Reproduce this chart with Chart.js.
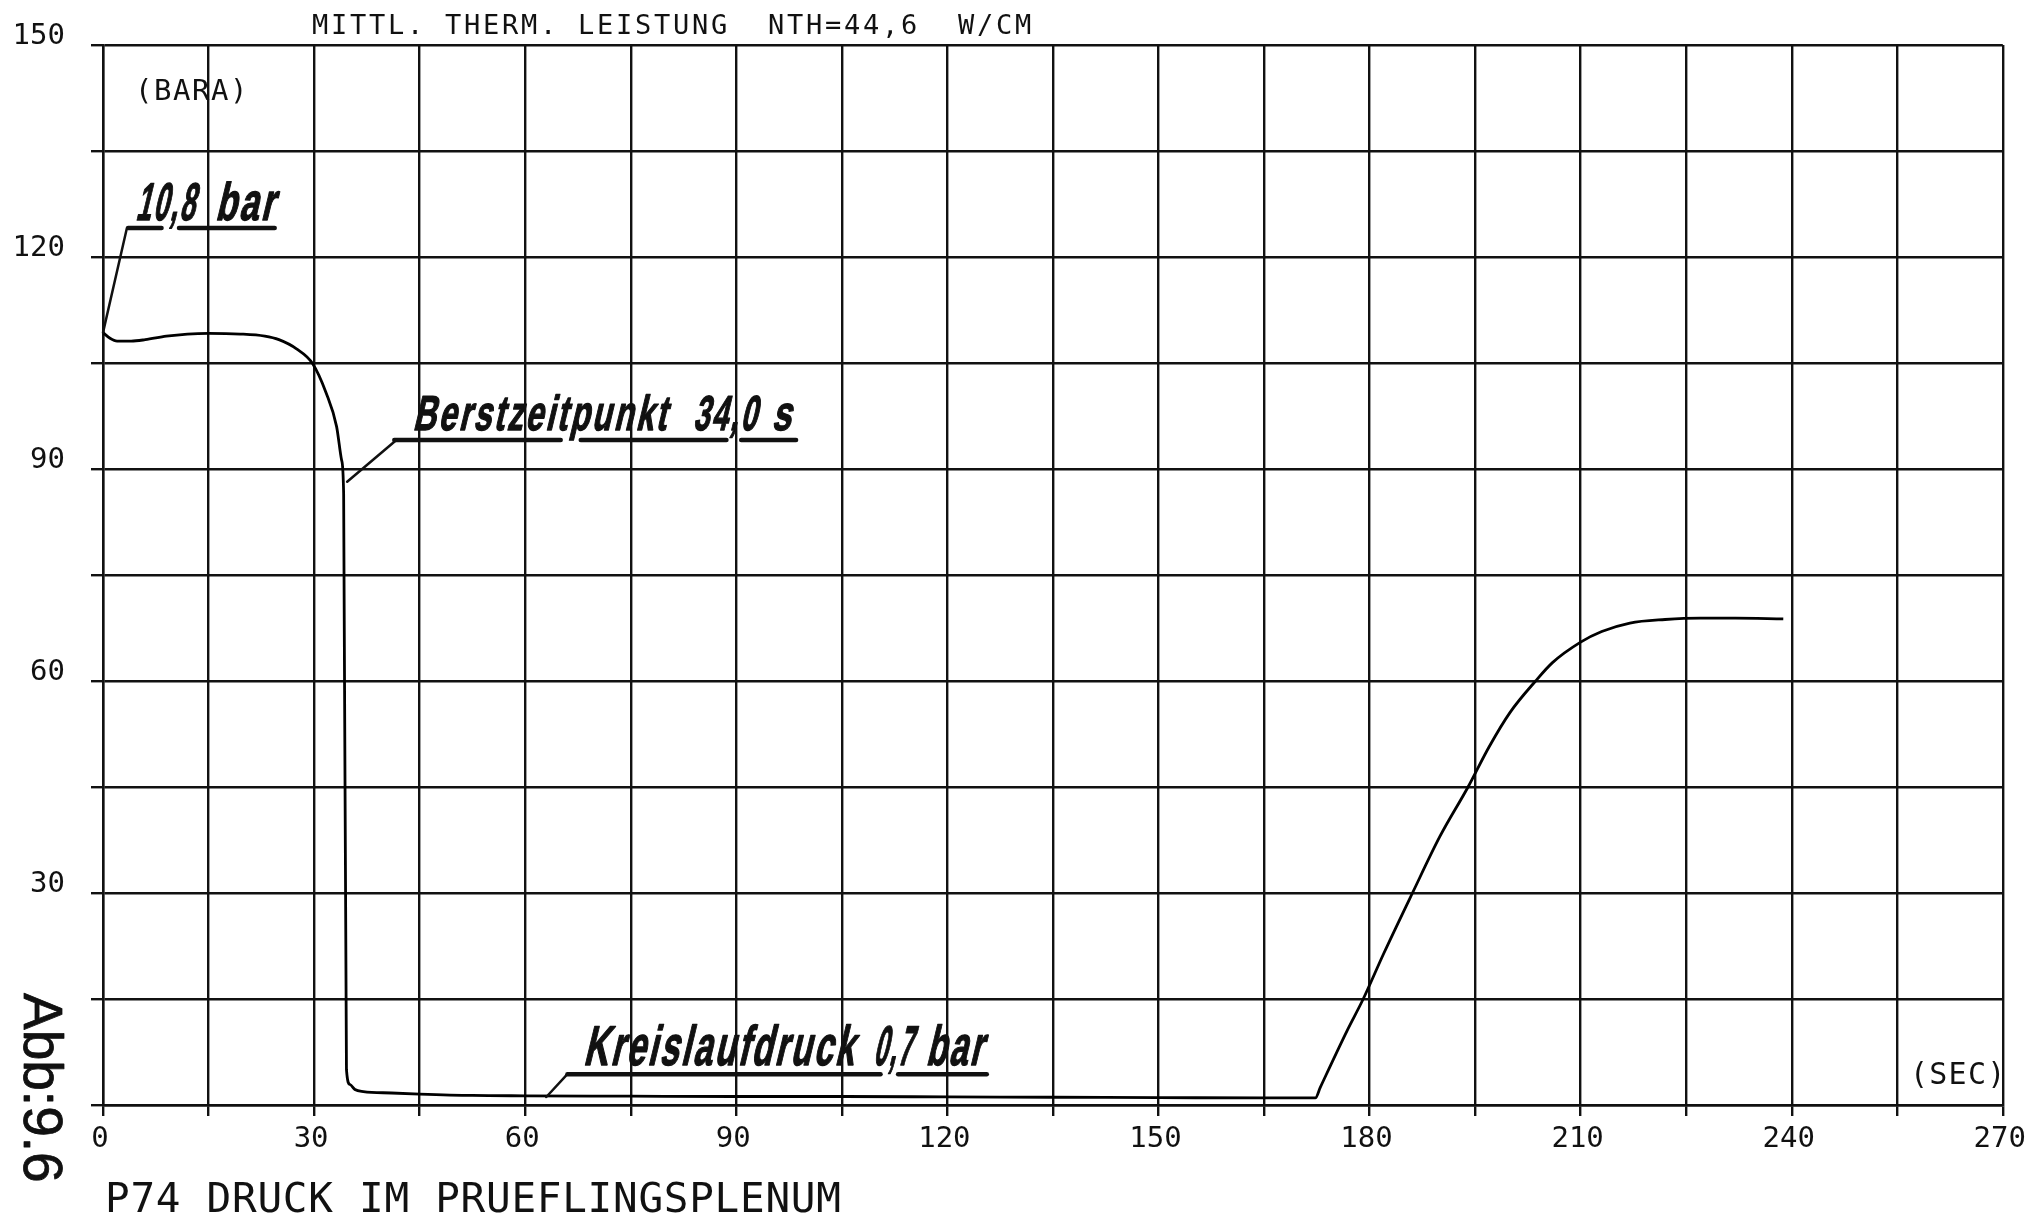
<!DOCTYPE html>
<html>
<head>
<meta charset="utf-8">
<title>P74 Druck im Prueflingsplenum</title>
<script src="https://cdn.jsdelivr.net/npm/chart.js@4/dist/chart.umd.min.js"></script>
<style>
  html, body { margin: 0; padding: 0; background: #fff; }
  #wrap { width: 2035px; height: 1218px; position: relative; }
</style>
</head>
<body>
<div id="wrap"><canvas id="chart"></canvas></div>
<script>
// Time axis (s) and plenum pressure (BARA scale, 0.1 bar per unit)
const timeSec = [0, 1, 2, 4, 6, 9, 12, 15, 19.5, 23, 25, 27.5, 29.8, 31.7, 33.2, 33.9, 34.2,
  34.6, 35.1, 35.8, 37, 41, 45, 52.5, 60, 75, 90, 105, 120, 135, 150, 165, 172.3,
  173.0, 176.8, 179.1, 182, 186.1, 190, 194, 197, 200, 203.6, 206, 210, 213, 217, 222, 227, 232, 238.8];
const pressure = [109.3, 108.5, 108.1, 108.1, 108.3, 108.8, 109.1, 109.2, 109.1, 108.8, 108.3, 107.0, 104.9, 100.8, 96.0, 91.3, 86.5,
  5.0, 2.9, 2.2, 1.9, 1.7, 1.55, 1.35, 1.3, 1.25, 1.2, 1.2, 1.15, 1.1, 1.05, 1.0, 1.0,
  2.5, 10.5, 15.0, 21.4, 30.0, 38.0, 45.0, 50.7, 55.6, 60.0, 62.6, 65.5, 67.0, 68.2, 68.7, 68.9, 68.9, 68.8];

// Labelled ticks
const xTickLabels = [0, 30, 60, 90, 120, 150, 180, 210, 240, 270];
const yTickLabels = [30, 60, 90, 120, 150];

// Hand-lettered notes: words with their time span
const noteInitial = [
  { text: '10,8', t0: 4.6, t1: 13.5 },
  { text: 'bar', t0: 15.9, t1: 24.8 }
];
const noteBerst = [
  { text: 'Berstzeitpunkt', t0: 44.0, t1: 80.5 },
  { text: '34,0', t0: 83.8, t1: 93.3 },
  { text: 's', t0: 95.0, t1: 98.2 }
];
const noteCircuit = [
  { text: 'Kreislaufdruck', t0: 68.2, t1: 107.2 },
  { text: '0,7', t0: 109.4, t1: 115.4 },
  { text: 'bar', t0: 116.9, t1: 125.5 }
];

const INK = '#111';
const MONO = '"DejaVu Sans Mono", monospace';

function plotText(ctx, text, x, y, size, pitch) {
  ctx.font = size + 'px ' + MONO;
  ctx.textAlign = 'left';
  ctx.textBaseline = 'alphabetic';
  for (let i = 0; i < text.length; i++) ctx.fillText(text[i], x + i * pitch, y);
}

function handWords(ctx, xs, ys, words, baseV, size) {
  ctx.font = 'bold ' + size + 'px "Liberation Sans", Arial, sans-serif';
  ctx.textAlign = 'left';
  ctx.textBaseline = 'alphabetic';
  const y = ys.getPixelForValue(baseV);
  const slant = 0.24;
  const gap = Math.round(size * 0.08);
  words.forEach(w => {
    const x0 = xs.getPixelForValue(w.t0);
    const x1 = xs.getPixelForValue(w.t1);
    ctx.save();
    if ('letterSpacing' in ctx) ctx.letterSpacing = gap + 'px';
    let natural = ctx.measureText(w.text).width;
    if ('letterSpacing' in ctx) natural -= gap;
    const k = (x1 - x0 - slant * size * 0.3) / natural;
    ctx.translate(x0, y);
    ctx.transform(1, 0, -slant, 1, 0, 0);
    ctx.scale(k, 1);
    ctx.lineWidth = 1.4;
    ctx.fillText(w.text, 0, 0);
    ctx.strokeText(w.text, 0, 0);
    ctx.restore();
  });
}

function segLine(ctx, xs, ys, pts, width) {
  ctx.beginPath();
  ctx.moveTo(xs.getPixelForValue(pts[0][0]), ys.getPixelForValue(pts[0][1]));
  for (let i = 1; i < pts.length; i++) ctx.lineTo(xs.getPixelForValue(pts[i][0]), ys.getPixelForValue(pts[i][1]));
  ctx.lineWidth = width;
  ctx.stroke();
}

const notesPlugin = {
  id: 'notes',
  afterDraw(chart) {
    const ctx = chart.ctx;
    const xs = chart.scales.x, ys = chart.scales.y;
    ctx.save();
    ctx.fillStyle = INK;
    ctx.strokeStyle = INK;
    ctx.lineCap = 'round';
    ctx.lineJoin = 'round';

    // plotter headings
    plotText(ctx, 'MITTL. THERM. LEISTUNG  NTH=44,6  W/CM', 312, 34, 27, 19.0);
    plotText(ctx, '(BARA)', 135, 100, 29, 19.0);
    plotText(ctx, '(SEC)', 1910, 1084, 30, 19.3);
    plotText(ctx, 'P74 DRUCK IM PRUEFLINGSPLENUM', 105, 1212, 41, 25.4);

    // figure number, running downwards
    ctx.save();
    ctx.translate(24, 993);
    ctx.rotate(Math.PI / 2);
    ctx.font = '55px "Liberation Sans", Arial, sans-serif';
    ctx.textBaseline = 'alphabetic';
    ctx.textAlign = 'left';
    ctx.lineWidth = 0.8;
    ctx.fillText('Abb:9.6', 0, 0);
    ctx.strokeText('Abb:9.6', 0, 0);
    ctx.restore();

    // initial pressure note
    handWords(ctx, xs, ys, noteInitial, 125.2, 53);
    segLine(ctx, xs, ys, [[3.57, 124.1], [8.32, 124.1]], 4.5);
    segLine(ctx, xs, ys, [[10.8, 124.1], [24.4, 124.1]], 4.5);
    segLine(ctx, xs, ys, [[3.4, 124.1], [timeSec[0], pressure[0]]], 2.5);

    // burst time note
    handWords(ctx, xs, ys, noteBerst, 95.5, 49);
    segLine(ctx, xs, ys, [[41.4, 94.1], [65.05, 94.1]], 4.5);
    segLine(ctx, xs, ys, [[67.9, 94.1], [88.6, 94.1]], 4.5);
    segLine(ctx, xs, ys, [[90.7, 94.1], [98.5, 94.1]], 4.5);
    segLine(ctx, xs, ys, [[41.7, 94.1], [34.7, 88.2]], 2.5);

    // circuit pressure note
    handWords(ctx, xs, ys, noteCircuit, 5.6, 56);
    segLine(ctx, xs, ys, [[66.0, 4.36], [110.5, 4.36]], 4.5);
    segLine(ctx, xs, ys, [[113.0, 4.36], [125.6, 4.36]], 4.5);
    segLine(ctx, xs, ys, [[66.0, 4.36], [63.0, 1.13]], 2.5);

    ctx.restore();
  }
};

new Chart(document.getElementById('chart'), {
  type: 'line',
  data: {
    datasets: [{
      data: timeSec.map((t, i) => ({ x: t, y: pressure[i] })),
      borderColor: '#000',
      borderWidth: 2.8,
      pointRadius: 0,
      fill: false,
      cubicInterpolationMode: 'monotone'
    }]
  },
  options: {
    responsive: true,
    maintainAspectRatio: false,
    animation: false,
    events: [],
    layout: { padding: { top: 45, right: 27, left: 0, bottom: 0 } },
    plugins: { legend: { display: false }, tooltip: { enabled: false }, title: { display: false } },
    scales: {
      x: {
        type: 'linear',
        min: 0, max: 270,
        afterFit(scale) { scale.height = 113; },
        grid: { color: INK, lineWidth: 2.4, drawTicks: true, tickLength: 11, tickColor: INK },
        border: { display: true, color: INK, width: 2.4 },
        ticks: {
          stepSize: 15, autoSkip: false, maxRotation: 0, minRotation: 0,
          color: INK, font: { family: MONO, size: 29 }, padding: 6, labelOffset: -3,
          callback: v => xTickLabels.includes(v) ? String(v) : ''
        }
      },
      y: {
        type: 'linear',
        min: 0, max: 150,
        afterFit(scale) { scale.width = 103; },
        grid: { color: INK, lineWidth: 2.4, drawTicks: true, tickLength: 12, tickColor: INK },
        border: { display: true, color: INK, width: 2.4 },
        ticks: {
          stepSize: 15, autoSkip: false,
          color: INK, font: { family: MONO, size: 29 }, padding: 26, labelOffset: -9,
          callback: v => yTickLabels.includes(v) ? String(v) : ''
        }
      }
    }
  },
  plugins: [notesPlugin]
});
</script>
</body>
</html>
